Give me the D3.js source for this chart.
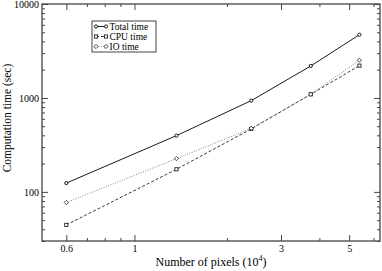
<!DOCTYPE html>
<html>
<head>
<meta charset="utf-8">
<script src="https://cdn.jsdelivr.net/npm/d3@7"></script>
<style>
  body { margin: 0; background: #fff; }
  svg { font-family: "Liberation Serif", "DejaVu Serif", serif; }
</style>
</head>
<body>
<div id="chart"></div>
<script>
// data (pixels in units of 10^4, time in sec)
const pixels = [0.6, 1.37, 2.4, 3.75, 5.4];
const totalTime = [124, 397, 936, 2190, 4710];
const cpuTime = [44.5, 174, 468, 1094, 2206];
const ioTime = [77, 226, 475, 1094, 2518];

const seriesNames = ['Total time', 'CPU time', 'IO time'];
const xMajor = [0.6, 1, 3, 5];
const xMinor = [0.7, 0.8, 0.9, 2, 4, 6];
const yMajor = [100, 1000, 10000];

const W = 382, H = 271;
const margin = { top: 4, right: 2, bottom: 30, left: 42 };
const innerW = W - margin.left - margin.right;
const innerH = H - margin.top - margin.bottom;

const svg = d3.select('#chart').append('svg')
    .attr('width', W).attr('height', H);
const g = svg.append('g').attr('transform', `translate(${margin.left},${margin.top})`);

const x = d3.scaleLog().domain([0.5, 6.3]).range([0, innerW]);
const y = d3.scaleLog().domain([30, 10000]).range([innerH, 0]);

// y minor ticks: 2..9 times each decade, inside domain
const yMinor = [];
[10, 100, 1000].forEach(d => {
    for (let k = 2; k <= 9; k++) {
        const v = d * k;
        if (v >= 30 && v <= 10000) yMinor.push(v);
    }
});

const axisColor = '#444';

function styleAxis(sel) {
    sel.select('.domain').remove();
    sel.selectAll('line').attr('stroke', axisColor).attr('stroke-width', 1);
    sel.selectAll('text').attr('fill', '#000').style('font-size', '10px')
        .style('font-family', '"Liberation Serif", serif');
}

// bottom axis (ticks inward)
g.append('g').attr('transform', `translate(0,${innerH})`)
    .call(d3.axisBottom(x).tickValues(xMajor).tickSize(-6).tickPadding(4).tickFormat(d3.format('')))
    .call(styleAxis);
g.append('g').attr('transform', `translate(0,${innerH})`)
    .call(d3.axisBottom(x).tickValues(xMinor).tickSize(-3).tickFormat(''))
    .call(styleAxis);
// top axis
g.append('g')
    .call(d3.axisTop(x).tickValues(xMajor).tickSize(-6).tickFormat(''))
    .call(styleAxis);
g.append('g')
    .call(d3.axisTop(x).tickValues(xMinor).tickSize(-3).tickFormat(''))
    .call(styleAxis);
// left axis
g.append('g')
    .call(d3.axisLeft(y).tickValues(yMajor).tickSize(-6).tickPadding(3).tickFormat(d3.format('d')))
    .call(styleAxis);
g.append('g')
    .call(d3.axisLeft(y).tickValues(yMinor).tickSize(-3).tickFormat(''))
    .call(styleAxis);
// right axis
g.append('g').attr('transform', `translate(${innerW},0)`)
    .call(d3.axisRight(y).tickValues(yMajor).tickSize(-6).tickFormat(''))
    .call(styleAxis);
g.append('g').attr('transform', `translate(${innerW},0)`)
    .call(d3.axisRight(y).tickValues(yMinor).tickSize(-3).tickFormat(''))
    .call(styleAxis);

// frame
g.append('rect')
    .attr('width', innerW).attr('height', innerH)
    .attr('fill', 'none').attr('stroke', axisColor).attr('stroke-width', 1.3);

const series = [
    { name: seriesNames[0], values: totalTime, color: '#000', dash: null, marker: 'circle' },
    { name: seriesNames[1], values: cpuTime, color: '#222', dash: '3,2', marker: 'square' },
    { name: seriesNames[2], values: ioTime, color: '#777', dash: '1,1.5', marker: 'diamond' }
];

const line = d3.line().x(d => x(d[0])).y(d => y(d[1]));

function drawMarker(sel, type, cx, cy, color) {
    if (type === 'circle') {
        sel.append('circle').attr('cx', cx).attr('cy', cy).attr('r', 1.6)
            .attr('fill', '#fff').attr('stroke', color).attr('stroke-width', 0.9);
    } else if (type === 'square') {
        sel.append('rect').attr('x', cx - 1.6).attr('y', cy - 1.6).attr('width', 3.2).attr('height', 3.2)
            .attr('fill', '#fff').attr('stroke', color).attr('stroke-width', 0.9);
    } else {
        sel.append('path')
            .attr('d', `M${cx},${cy - 2.1}L${cx + 2.1},${cy}L${cx},${cy + 2.1}L${cx - 2.1},${cy}Z`)
            .attr('fill', '#fff').attr('stroke', color).attr('stroke-width', 0.9);
    }
}

series.forEach(s => {
    const pts = pixels.map((p, i) => [p, s.values[i]]);
    g.append('path').datum(pts)
        .attr('d', line)
        .attr('fill', 'none')
        .attr('stroke', s.color)
        .attr('stroke-width', 0.9)
        .attr('stroke-dasharray', s.dash);
});
series.forEach(s => {
    const mg = g.append('g');
    pixels.forEach((p, i) => drawMarker(mg, s.marker, x(p), y(s.values[i]), s.color === '#777' ? '#333' : s.color));
});

// legend
const legend = svg.append('g').attr('transform', 'translate(92,21)');
legend.append('rect').attr('width', 64).attr('height', 31)
    .attr('fill', '#fff').attr('stroke', axisColor).attr('stroke-width', 1);
series.forEach((s, i) => {
    const ly = 5.5 + i * 10;
    legend.append('line').attr('x1', 4).attr('x2', 14).attr('y1', ly).attr('y2', ly)
        .attr('stroke', s.color).attr('stroke-width', 0.9).attr('stroke-dasharray', s.dash);
    drawMarker(legend, s.marker, 4, ly, s.color === '#777' ? '#333' : s.color);
    drawMarker(legend, s.marker, 14, ly, s.color === '#777' ? '#333' : s.color);
    legend.append('text').attr('x', 17.5).attr('y', ly + 3.2)
        .style('font-size', '9.5px').text(s.name);
});

// axis titles
const xt = svg.append('text')
    .attr('x', 211).attr('y', 266)
    .attr('text-anchor', 'middle')
    .style('font-size', '12px');
xt.append('tspan').text('Number of pixels (10');
xt.append('tspan').attr('dy', -5).style('font-size', '8px').text('4');
xt.append('tspan').attr('dy', 5).text(')');

svg.append('text')
    .attr('transform', 'translate(11,118) rotate(-90)')
    .attr('text-anchor', 'middle')
    .style('font-size', '11.5px')
    .text('Computation time (sec)');
</script>
</body>
</html>
